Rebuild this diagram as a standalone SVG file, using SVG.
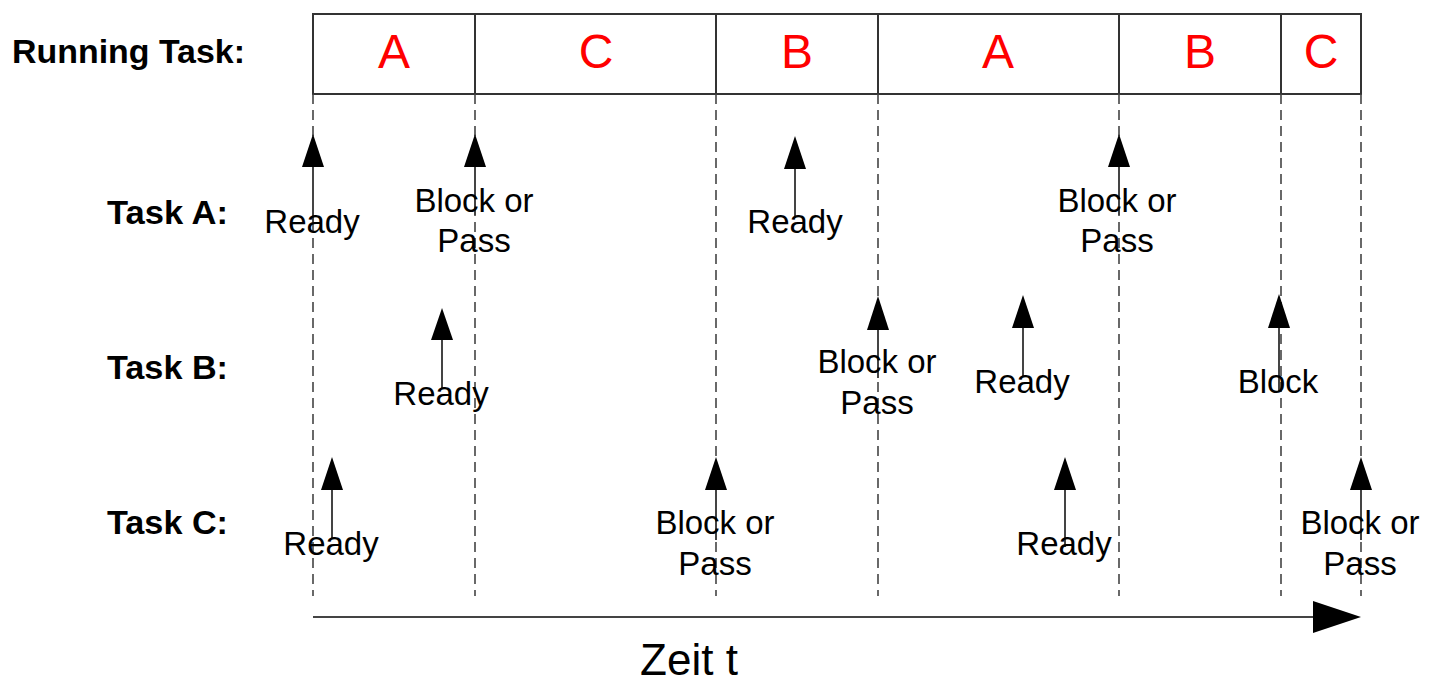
<svg xmlns="http://www.w3.org/2000/svg" width="1430" height="698" viewBox="0 0 1430 698">
<defs>
<style>
.lbl{font-family:"Liberation Sans",Arial,sans-serif;font-weight:bold;font-size:33px;fill:#000}
.ev{font-family:"Liberation Sans",Arial,sans-serif;font-size:33px;fill:#000;text-anchor:middle}
.run{font-family:"Liberation Sans",Arial,sans-serif;font-size:48px;fill:#ff0000;text-anchor:middle}
.box{fill:none;stroke:#333;stroke-width:2}
.dash{stroke:#444;stroke-width:1.6;stroke-dasharray:10 6;fill:none}
.stem{stroke:#444;stroke-width:2;fill:none}
.head{fill:#000}
</style>
</defs>
<rect width="1430" height="698" fill="#fff"/>
<g id="labels">
<text class="lbl" x="12" y="63" textLength="233" lengthAdjust="spacingAndGlyphs">Running Task:</text>
<text class="lbl" x="107" y="224" textLength="121" lengthAdjust="spacingAndGlyphs">Task A:</text>
<text class="lbl" x="107" y="379" textLength="121" lengthAdjust="spacingAndGlyphs">Task B:</text>
<text class="lbl" x="107" y="534" textLength="121" lengthAdjust="spacingAndGlyphs">Task C:</text>
</g>
<g id="running">
<rect class="box" x="313" y="14" width="1048" height="80"/>
<line class="box" x1="475" y1="14" x2="475" y2="94"/>
<line class="box" x1="716" y1="14" x2="716" y2="94"/>
<line class="box" x1="878" y1="14" x2="878" y2="94"/>
<line class="box" x1="1119" y1="14" x2="1119" y2="94"/>
<line class="box" x1="1281" y1="14" x2="1281" y2="94"/>
<text class="run" x="394" y="68">A</text>
<text class="run" x="596" y="68">C</text>
<text class="run" x="797" y="68">B</text>
<text class="run" x="998" y="68">A</text>
<text class="run" x="1200" y="68">B</text>
<text class="run" x="1321" y="68">C</text>
</g>
<g id="gridlines">
<line class="dash" x1="313" y1="94" x2="313" y2="596"/>
<line class="dash" x1="475" y1="94" x2="475" y2="596"/>
<line class="dash" x1="716" y1="94" x2="716" y2="596"/>
<line class="dash" x1="878" y1="94" x2="878" y2="596"/>
<line class="dash" x1="1119" y1="94" x2="1119" y2="596"/>
<line class="dash" x1="1281" y1="94" x2="1281" y2="596"/>
<line class="dash" x1="1361" y1="94" x2="1361" y2="596"/>
</g>
<g id="connectors">
<line class="stem" x1="313" y1="165" x2="313" y2="222"/><polygon class="head" points="313,134 302,167 324,167"/>
<line class="stem" x1="475" y1="165" x2="475" y2="215"/><polygon class="head" points="475,134 464,167 486,167"/>
<line class="stem" x1="795" y1="167" x2="795" y2="218"/><polygon class="head" points="795,136 784,169 806,169"/>
<line class="stem" x1="1119" y1="165" x2="1119" y2="215"/><polygon class="head" points="1119,134 1108,167 1130,167"/>
<line class="stem" x1="442" y1="338" x2="442" y2="388"/><polygon class="head" points="442,308 431,340 453,340"/>
<line class="stem" x1="878" y1="328" x2="878" y2="378"/><polygon class="head" points="878,296 867,330 889,330"/>
<line class="stem" x1="1023" y1="326" x2="1023" y2="377"/><polygon class="head" points="1023,295 1012,328 1034,328"/>
<line class="stem" x1="1279" y1="326" x2="1279" y2="392"/><polygon class="head" points="1279,294 1268,328 1290,328"/>
<line class="stem" x1="332" y1="488" x2="332" y2="538"/><polygon class="head" points="332,457 321,490 343,490"/>
<line class="stem" x1="716" y1="488" x2="716" y2="540"/><polygon class="head" points="716,457 705,490 727,490"/>
<line class="stem" x1="1065" y1="488" x2="1065" y2="547"/><polygon class="head" points="1065,457 1054,490 1076,490"/>
<line class="stem" x1="1361" y1="488" x2="1361" y2="540"/><polygon class="head" points="1361,457 1350,490 1372,490"/>
<line class="stem" x1="313" y1="617" x2="1316" y2="617"/><polygon class="head" points="1361,617 1313,601 1313,633"/>
</g>
<g id="events">
<text class="ev" x="312" y="233">Ready</text>
<text class="ev" x="474" y="212">Block or</text><text class="ev" x="474" y="252">Pass</text>
<text class="ev" x="795" y="233">Ready</text>
<text class="ev" x="1117" y="212">Block or</text><text class="ev" x="1117" y="252">Pass</text>
<text class="ev" x="441" y="405">Ready</text>
<text class="ev" x="877" y="373">Block or</text><text class="ev" x="877" y="414">Pass</text>
<text class="ev" x="1022" y="393">Ready</text>
<text class="ev" x="1278" y="393">Block</text>
<text class="ev" x="331" y="555">Ready</text>
<text class="ev" x="715" y="534">Block or</text><text class="ev" x="715" y="575">Pass</text>
<text class="ev" x="1064" y="555">Ready</text>
<text class="ev" x="1360" y="534">Block or</text><text class="ev" x="1360" y="575">Pass</text>
<text x="689" y="675" style="font-family:'Liberation Sans',Arial,sans-serif;font-size:44px;fill:#000;text-anchor:middle">Zeit t</text>
</g>
</svg>
